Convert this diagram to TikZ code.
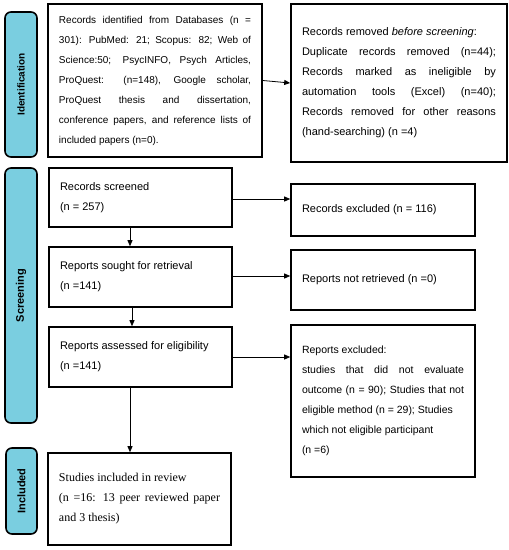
\documentclass[tikz,border=0pt]{standalone}
\usepackage{fontspec}
\setmainfont{Liberation Sans}
\newfontfamily\serifface{Liberation Serif}
\usetikzlibrary{arrows.meta}
\definecolor{barblue}{RGB}{122,206,224}
\begin{document}
\begin{tikzpicture}[x=1pt,y=-1pt,
  box/.style={draw=black, line width=1.6pt, inner xsep=11pt, inner ysep=0pt,
    align=justify, font=\fontsize{11}{20}\selectfont},
  bar/.style={draw=black, line width=1.6pt, fill=barblue, rounded corners=6pt,
    inner sep=0pt, rotate=90, font=\bfseries\fontsize{11}{13}\selectfont},
  arr/.style={line width=0.8pt, -{Triangle[length=6pt,width=5pt]}}
]
\useasboundingbox (0,0) rectangle (509,550);

% phase bars
\node[bar, minimum width=145pt, minimum height=32pt, font=\bfseries\fontsize{10}{12}\selectfont] (idbar) at (21,84.5) {Identification};
\node[bar, minimum width=255pt, minimum height=32pt] (scrbar) at (21,295.5) {Screening};
\node[bar, minimum width=86pt, minimum height=31pt] (incbar) at (21.5,491) {Included};

% boxes
\node[box, text width=192pt, minimum height=153pt, font=\fontsize{10}{20}\selectfont] (ident) at (155,80.5)
 {Records identified from Databases (n =\linebreak
  301): PubMed: 21; Scopus: 82; Web of\linebreak
  Science:50; PsycINFO, Psych Articles,\linebreak
  ProQuest: (n=148), Google scholar,\linebreak
  ProQuest thesis and dissertation,\linebreak
  conference papers, and reference lists of\linebreak
  included papers (n=0).};

\node[box, text width=194pt, minimum height=158pt] (removed) at (399,83)
 {Records removed \textit{before screening}:\\
  Duplicate records removed (n=44);\linebreak
  Records marked as ineligible by\linebreak
  automation tools (Excel) (n=40);\linebreak
  Records removed for other reasons\linebreak
  (hand-searching) (n =4)};

\node[box, text width=161pt, minimum height=59pt] (screened) at (140.5,197.5)
 {Records screened\\ (n = 257)};
\node[box, text width=162pt, minimum height=52pt] (excl1) at (383,210)
 {Records excluded (n = 116)};

\node[box, text width=161pt, minimum height=60pt] (sought) at (140.5,277)
 {Reports sought for retrieval\\ (n =141)};
\node[box, text width=162pt, minimum height=60pt] (notret) at (383,280)
 {Reports not retrieved (n =0)};

\node[box, text width=161pt, minimum height=60pt] (assessed) at (140.5,357)
 {Reports assessed for eligibility\\ (n =141)};
\node[box, text width=162pt, minimum height=152pt, font=\fontsize{10.5}{20}\selectfont] (excl2) at (383,401)
 {Reports excluded:\\
  studies that did not evaluate\linebreak
  outcome (n = 90); Studies that not\linebreak
  eligible method (n = 29); Studies\\
  which not eligible participant\\
  (n =6)};

\node[box, text width=161pt, minimum height=92pt, font=\serifface\fontsize{12}{20}\selectfont] (incl) at (139.5,499)
 {Studies included in review\\
  (n =16: 13 peer reviewed paper\linebreak
  and 3 thesis)};

% connectors
\draw[arr] (ident.east) -- (removed.west);
\draw[arr] ([yshift=-1.5pt]screened.east) -- ([yshift=-1.5pt]screened.east -| excl1.west);
\draw[arr] ([yshift=1pt]sought.east) -- ([yshift=1pt]sought.east -| notret.west);
\draw[arr] (assessed.east) -- (assessed.east -| excl2.west);
\draw[arr] ([xshift=-10.5pt]screened.south) -- ([xshift=-10.5pt]screened.south |- sought.north);
\draw[arr] ([xshift=-8.5pt]sought.south) -- ([xshift=-8.5pt]sought.south |- assessed.north);
\draw[arr] ([xshift=-10.5pt]assessed.south) -- ([xshift=-10.5pt]assessed.south |- incl.north);
\end{tikzpicture}
\end{document}
